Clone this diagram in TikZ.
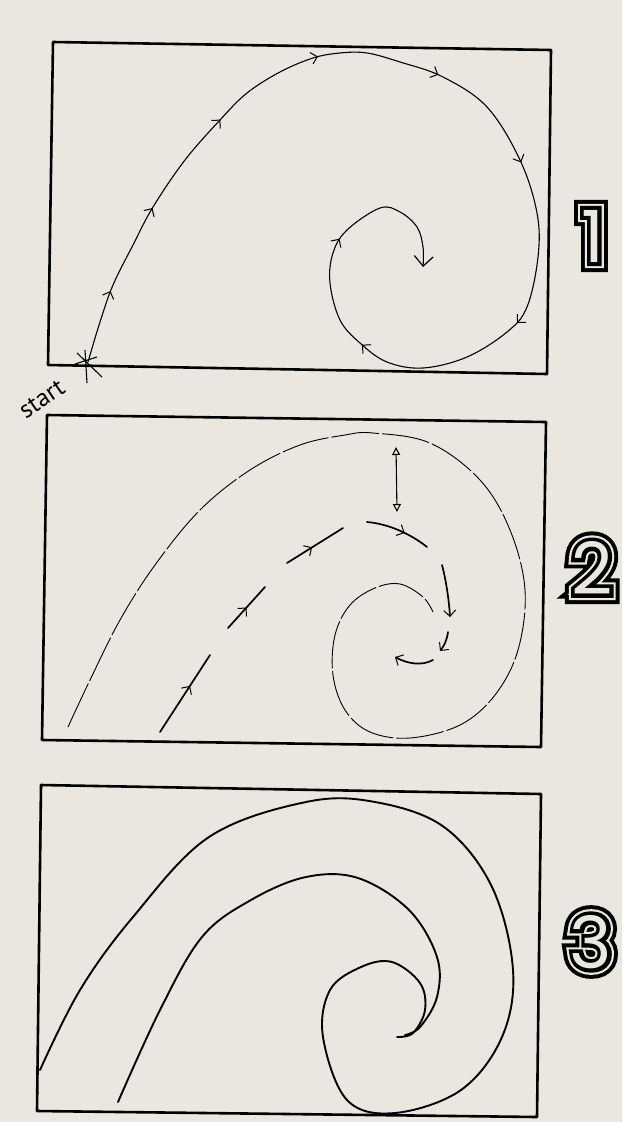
\documentclass[tikz,border=0pt]{standalone}
\usepackage{fontspec}
\usepackage{xcolor}
\newfontfamily\digitfont{Poppins}
\newfontfamily\digitfontA[FakeBold=28]{Poppins}
\newfontfamily\digitfontB[FakeBold=17]{Poppins}
\newfontfamily\digitfontC[FakeBold=11]{Poppins}
\newfontfamily\handfont{PT Sans}
\usetikzlibrary{arrows.meta, decorations.markings, calc}

\definecolor{paper}{RGB}{234,231,224}

\tikzset{
  barb/.tip={Straight Barb[length=6pt,width=12pt,line width=1pt]},
  bigbarb/.tip={Straight Barb[length=10pt,width=19pt,line width=1.2pt]},
  frame/.style={line width=2.6pt, line join=round},
  route/.style={line width=1.1pt},
  thinwave/.style={line width=0.9pt, dash pattern=on 48pt off 3pt},
  dashseg/.style={line width=1.7pt, line cap=round},
  midarrow/.style={postaction={decorate}, decoration={markings,
      mark=at position #1 with {\arrow{barb}}}},
  wave/.style={line width=1.9pt, line cap=round},
  digit/.style={inner sep=0pt, font=\digitfont\fontsize{72}{72}\selectfont},
}

\begin{document}
\begin{tikzpicture}[x=1pt, y=-1pt]
  \fill[paper] (0,0) rectangle (622,1122);
  \useasboundingbox (0,0) rectangle (622,1122);

  % frames
  \draw[frame] (53,42) -- (551,50) -- (547,374) -- (48,365) -- cycle;
  \draw[frame] (47,415) -- (546,422) -- (541,747) -- (42,740) -- cycle;
  \draw[frame] (41,785) -- (541,794) -- (537,1117) -- (37,1111) -- cycle;

  % panel 1: the route from the start
  \draw[route, -bigbarb, postaction={decorate}, decoration={markings,
      mark=at position 0.06 with {\arrow{barb}},
      mark=at position 0.135 with {\arrow{barb}},
      mark=at position 0.225 with {\arrow{barb}},
      mark=at position 0.32 with {\arrow{barb}},
      mark=at position 0.42 with {\arrow{barb}},
      mark=at position 0.52 with {\arrow{barb}},
      mark=at position 0.655 with {\arrow{barb}},
      mark=at position 0.795 with {\arrow{barb}},
      mark=at position 0.89 with {\arrow{barb}}}]
    plot[smooth, tension=0.6] coordinates {(88,362) (100,322) (113,285)
      (133,245) (153,207) (185,160) (220,120) (247,93) (280,72) (313,58)
      (340,53) (367,53) (400,62) (443,77) (487,107) (520,160) (537,213)
      (538,257) (527,307) (507,332) (467,357) (423,368) (387,362)
      (360,343) (340,320) (330,283) (333,253) (347,230) (380,208)
      (400,212) (417,227) (423,247) (423,267)};
  % start mark
  \draw[line width=1.1pt] (85,350) -- (87,383)
    (77,353) -- (102,377) (75,364) -- (97,357);
  \node[font=\handfont\fontsize{25}{25}\selectfont, rotate=34]
    (start) at (42,399) {start};

  % panel 2
  \draw[thinwave] plot[smooth, tension=0.6] coordinates {(68,727) (90,680)
      (120,620) (155,565) (200,510) (250,470) (300,445) (345,435)
      (373,433) (430,443) (480,480) (510,530) (525,590) (518,650)
      (495,695) (460,725) (410,738) (370,732) (345,710) (333,675)
      (335,635) (350,605) (375,588) (400,584) (423,597) (433,612)};
  \draw[dashseg, midarrow=0.6] (160,732) -- (210,655);
  \draw[dashseg, midarrow=0.5] (228,628) -- (265,587);
  \draw[dashseg, midarrow=0.45] (287,563) -- (343,528);
  \draw[dashseg, midarrow=0.6] (367,522) .. controls (390,524) and (412,535) .. (427,547);
  \draw[dashseg, -barb] (442,565) .. controls (446,580) and (449,600) .. (450,617);
  \draw[dashseg, -barb] (448,632) .. controls (447,640) and (444,646) .. (440,651);
  \draw[dashseg, -barb] (433,660) .. controls (422,666) and (408,664) .. (395,657);
  \draw[line width=1.1pt, {Triangle[open,length=8pt,width=8pt]}-{Triangle[open,length=8pt,width=8pt]}]
    (396,447) -- (397,512);

  % panel 3
  \draw[wave] plot[smooth, tension=0.6] coordinates {(40,1070) (80,990)
      (133,917) (209,837) (306,802) (375,802) (444,827) (492,887)
      (513,970) (502,1037) (461,1090) (395,1113) (347,1100) (323,1037)
      (330,990) (361,967) (392,962) (420,983) (425,1010) (413,1033)
      (397,1037)};
  \draw[wave] plot[smooth, tension=0.6] coordinates {(118,1102) (160,1010)
      (202,937) (251,900) (306,877) (358,878) (409,910) (437,957)
      (437,997) (420,1027) (405,1035)};

  % numbers, striped: stacked outlines of one glyph
  \foreach \n/\x/\y in {1/593/236, 2/592/568, 3/591/942}{
    \node[digit, font=\digitfontA\fontsize{72}{72}\selectfont, text=black] (num\n a) at (\x,\y) {\n};
    \node[digit, font=\digitfontB\fontsize{72}{72}\selectfont, text=paper] (num\n b) at (\x,\y) {\n};
    \node[digit, font=\digitfontC\fontsize{72}{72}\selectfont, text=black] (num\n c) at (\x,\y) {\n};
    \node[digit, text=paper] (num\n) at (\x,\y) {\n};
  }
\end{tikzpicture}
\end{document}
